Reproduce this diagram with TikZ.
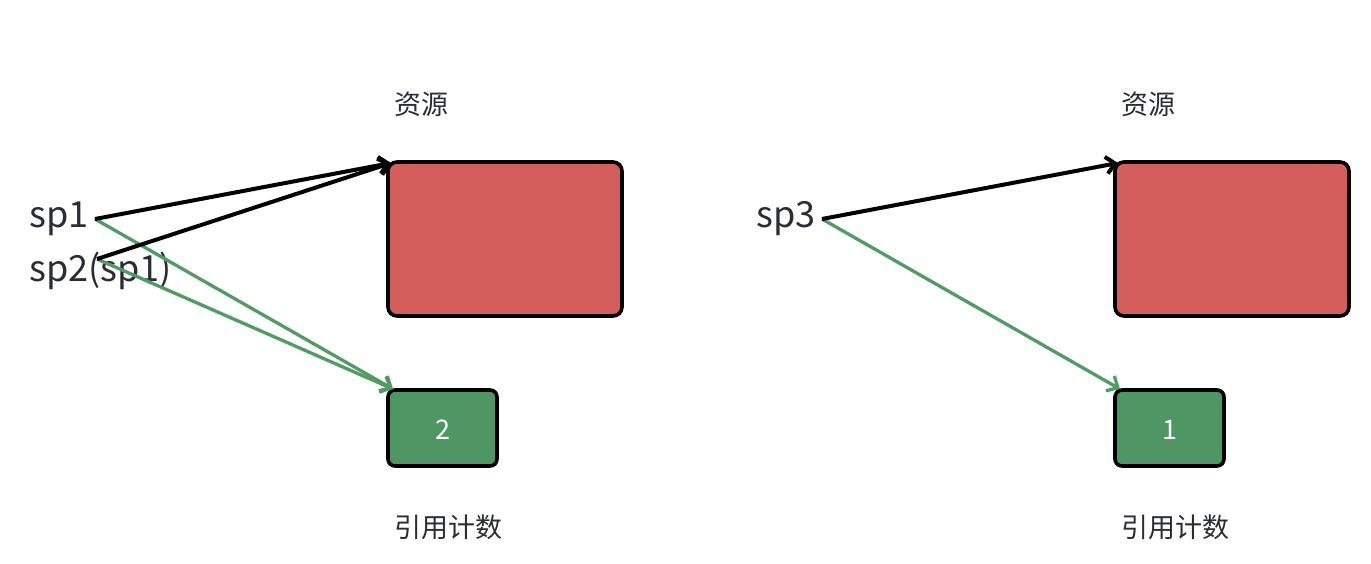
\documentclass[tikz,border=0pt]{standalone}
\usepackage{fontspec}
\setmainfont{Noto Sans CJK SC}
\usetikzlibrary{arrows.meta}
\definecolor{resred}{HTML}{D45E5B}
\definecolor{cntgreen}{HTML}{4E9662}
\definecolor{argreen}{HTML}{529B64}
\definecolor{txt}{HTML}{2A2D33}
\begin{document}
\begin{tikzpicture}[x=1pt,y=-1pt,
  resbox/.style={draw=black,line width=3.6pt,fill=resred,rounded corners=9pt},
  cntbox/.style={draw=black,line width=3.6pt,fill=cntgreen,rounded corners=7pt},
  lbl/.style={text=txt,font=\fontsize{27}{30}\selectfont,inner sep=0pt},
  ptr/.style={text=txt,font=\fontsize{36}{40}\selectfont,inner sep=0pt,anchor=west},
  blk/.style={draw=black,line width=4pt,-{Straight Barb[length=9pt,width=17pt,line width=4pt]}},
  grn/.style={draw=argreen,line width=3.3pt,-{Straight Barb[length=9pt,width=17pt,line width=3.3pt]}}
]
\useasboundingbox (0,0) rectangle (1371,563);
% left group
\draw[resbox] (388,162) rectangle (622,316);
\draw[cntbox] (388,390) rectangle (497,466);
\node[lbl,text=white] (c2) at (442.5,430) {2};
\coordinate (r1) at (391,163);
\coordinate (g1) at (393,389);
\node[lbl] (res1) at (421,104) {资源};
\node[lbl] (cnt1) at (448,527) {引用计数};
\node[ptr] (sp1) at (29,219) {sp1};
\node[ptr] (sp2) at (29,271) {sp2(sp1)};
\coordinate (sp1e) at (95,219);
\coordinate (sp2e) at (97,259);
\draw[grn] (sp1e) -- (g1);
\draw[grn] (sp2e) -- (g1);
\draw[blk] (sp1e) -- (r1);
\draw[blk] (sp2e) -- (r1);
% right group
\draw[resbox] (1115,162) rectangle (1349,316);
\draw[cntbox] (1115,390) rectangle (1224,466);
\node[lbl,text=white] (c1) at (1169.5,430) {1};
\coordinate (r2) at (1118,163);
\coordinate (g2) at (1120,389);
\node[lbl] (res2) at (1148,104) {资源};
\node[lbl] (cnt2) at (1175,527) {引用计数};
\node[ptr] (sp3) at (756,219) {sp3};
\coordinate (sp3e) at (822,219);
\draw[grn] (sp3e) -- (g2);
\draw[blk] (sp3e) -- (r2);
\end{tikzpicture}
\end{document}
